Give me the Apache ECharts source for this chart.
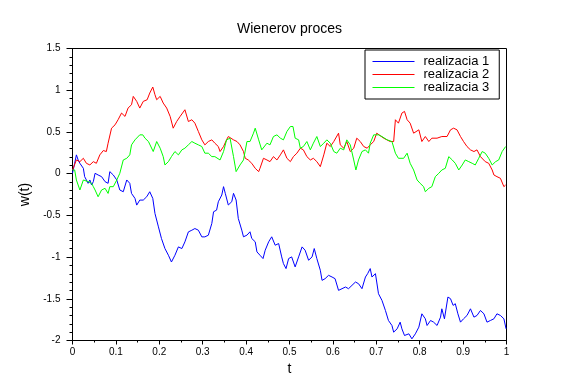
<!DOCTYPE html>
<html>
<head>
<meta charset="utf-8">
<script src="https://cdn.jsdelivr.net/npm/echarts@6/dist/echarts.min.js"></script>
<style>
html,body{margin:0;padding:0;background:#fff;}
#chart{width:579px;height:388px;}
</style>
</head>
<body>
<div id="chart"></div>
<script>
var titleText = 'Wienerov proces';
var seriesNames = ['realizacia 1', 'realizacia 2', 'realizacia 3'];
var xTicks = [0, 0.1, 0.2, 0.3, 0.4, 0.5, 0.6, 0.7, 0.8, 0.9, 1];
var yTicks = [-2, -1.5, -1, -0.5, 0, 0.5, 1, 1.5];

// realizacia 1 (blue)
var t1 = [0.000,0.005,0.009,0.013,0.017,0.021,0.025,0.028,0.032,0.036,0.040,0.044,0.048,0.052,0.059,0.067,0.075,0.082,0.086,0.094,0.102,0.109,0.117,0.125,0.128,0.132,0.136,0.144,0.148,0.155,0.163,0.171,0.178,0.185,0.190,0.198,0.205,0.213,0.221,0.228,0.236,0.244,0.252,0.259,0.267,0.275,0.282,0.290,0.298,0.305,0.313,0.321,0.325,0.332,0.336,0.344,0.348,0.352,0.359,0.367,0.371,0.377,0.382,0.390,0.394,0.402,0.409,0.413,0.421,0.425,0.432,0.439,0.444,0.452,0.459,0.467,0.475,0.482,0.486,0.492,0.498,0.505,0.513,0.521,0.529,0.536,0.544,0.552,0.557,0.563,0.571,0.575,0.582,0.590,0.598,0.605,0.613,0.621,0.629,0.636,0.644,0.652,0.659,0.667,0.675,0.680,0.686,0.690,0.698,0.701,0.705,0.713,0.721,0.728,0.736,0.740,0.748,0.755,0.759,0.765,0.775,0.782,0.790,0.798,0.805,0.813,0.817,0.825,0.832,0.840,0.848,0.851,0.857,0.865,0.871,0.877,0.882,0.888,0.894,0.901,0.909,0.917,0.925,0.932,0.940,0.948,0.955,0.963,0.971,0.978,0.986,0.994,0.999];
var w1 = [0.004,0.124,0.225,0.164,0.124,0.104,0.064,-0.036,-0.076,-0.116,-0.076,-0.136,-0.096,0.004,-0.016,-0.036,-0.096,-0.116,0.024,-0.016,-0.076,-0.196,-0.217,-0.076,-0.056,-0.116,-0.237,-0.297,-0.377,-0.317,-0.317,-0.277,-0.217,-0.297,-0.477,-0.638,-0.778,-0.898,-0.978,-1.059,-0.978,-0.878,-0.898,-0.818,-0.698,-0.678,-0.658,-0.678,-0.758,-0.758,-0.738,-0.597,-0.457,-0.437,-0.337,-0.256,-0.156,-0.236,-0.376,-0.336,-0.236,-0.316,-0.537,-0.677,-0.757,-0.737,-0.697,-0.777,-0.817,-0.938,-0.978,-1.018,-0.918,-0.817,-0.757,-0.858,-0.838,-0.998,-1.078,-1.138,-1.018,-0.998,-1.118,-0.998,-0.878,-0.918,-1.038,-0.998,-0.898,-1.018,-1.158,-1.279,-1.259,-1.219,-1.239,-1.259,-1.399,-1.379,-1.359,-1.379,-1.339,-1.299,-1.319,-1.379,-1.239,-1.199,-1.138,-1.239,-1.199,-1.299,-1.439,-1.519,-1.640,-1.760,-1.820,-1.900,-1.860,-1.780,-1.860,-1.940,-1.920,-1.980,-1.920,-1.840,-1.680,-1.740,-1.820,-1.760,-1.780,-1.820,-1.720,-1.620,-1.740,-1.479,-1.499,-1.579,-1.559,-1.680,-1.780,-1.740,-1.700,-1.620,-1.720,-1.700,-1.640,-1.680,-1.780,-1.760,-1.740,-1.680,-1.700,-1.740,-1.860];

// realizacia 2 (red)
var t2 = [0.000,0.009,0.017,0.025,0.032,0.040,0.044,0.048,0.055,0.063,0.071,0.078,0.082,0.090,0.098,0.105,0.113,0.121,0.128,0.136,0.140,0.148,0.155,0.163,0.172,0.178,0.185,0.190,0.194,0.202,0.209,0.217,0.225,0.232,0.240,0.248,0.259,0.267,0.275,0.282,0.290,0.298,0.305,0.313,0.321,0.328,0.336,0.340,0.348,0.355,0.359,0.371,0.379,0.386,0.394,0.398,0.405,0.413,0.421,0.429,0.432,0.440,0.448,0.455,0.463,0.471,0.479,0.486,0.494,0.502,0.509,0.517,0.525,0.532,0.540,0.548,0.555,0.563,0.571,0.579,0.586,0.594,0.602,0.613,0.617,0.625,0.632,0.640,0.648,0.655,0.663,0.671,0.679,0.686,0.694,0.701,0.717,0.732,0.740,0.744,0.751,0.759,0.765,0.771,0.778,0.786,0.798,0.805,0.813,0.821,0.828,0.840,0.851,0.863,0.871,0.878,0.886,0.894,0.901,0.909,0.917,0.925,0.932,0.940,0.951,0.959,0.967,0.971,0.978,0.986,0.994,0.998];
var w2 = [0.044,0.164,0.144,0.184,0.124,0.104,0.084,0.144,0.124,0.225,0.277,0.265,0.365,0.545,0.585,0.646,0.726,0.686,0.786,0.826,0.926,0.866,0.786,0.866,0.886,0.966,1.038,0.946,0.886,0.926,0.846,0.786,0.686,0.545,0.625,0.686,0.766,0.625,0.646,0.605,0.505,0.405,0.345,0.385,0.405,0.365,0.325,0.265,0.325,0.405,0.445,0.405,0.385,0.345,0.265,0.184,0.164,0.124,0.064,0.024,0.064,0.184,0.164,0.144,0.204,0.164,0.225,0.285,0.184,0.144,0.204,0.245,0.305,0.285,0.204,0.164,0.184,0.144,0.084,0.225,0.365,0.325,0.385,0.485,0.345,0.305,0.385,0.265,0.305,0.425,0.385,0.325,0.305,0.345,0.385,0.485,0.425,0.385,0.385,0.646,0.605,0.726,0.746,0.646,0.605,0.485,0.525,0.385,0.445,0.385,0.425,0.425,0.445,0.445,0.525,0.545,0.525,0.445,0.385,0.325,0.285,0.265,0.285,0.204,0.144,0.124,0.044,-0.016,-0.036,-0.056,-0.156,-0.136];

// realizacia 3 (green)
var t3 = [0.000,0.005,0.009,0.017,0.021,0.025,0.028,0.036,0.044,0.048,0.052,0.059,0.067,0.075,0.082,0.086,0.094,0.102,0.109,0.117,0.125,0.132,0.136,0.144,0.148,0.155,0.162,0.167,0.175,0.178,0.186,0.194,0.202,0.209,0.213,0.221,0.228,0.236,0.244,0.252,0.259,0.267,0.275,0.282,0.290,0.298,0.305,0.313,0.321,0.328,0.340,0.348,0.355,0.363,0.371,0.377,0.386,0.394,0.402,0.409,0.417,0.421,0.429,0.436,0.440,0.448,0.455,0.463,0.471,0.479,0.486,0.494,0.502,0.508,0.513,0.521,0.525,0.532,0.540,0.548,0.555,0.563,0.571,0.579,0.586,0.594,0.602,0.609,0.617,0.625,0.632,0.640,0.648,0.653,0.659,0.667,0.675,0.682,0.686,0.694,0.705,0.713,0.725,0.736,0.744,0.751,0.763,0.771,0.778,0.786,0.794,0.801,0.809,0.813,0.821,0.828,0.836,0.844,0.851,0.859,0.867,0.875,0.882,0.890,0.898,0.905,0.913,0.921,0.928,0.936,0.944,0.951,0.959,0.967,0.975,0.982,0.990,0.998];
var w3 = [0.044,0.044,-0.076,-0.196,-0.136,-0.076,-0.056,-0.096,-0.116,-0.156,-0.196,-0.277,-0.196,-0.176,-0.237,-0.156,-0.156,-0.076,0.004,0.164,0.184,0.225,0.345,0.405,0.425,0.465,0.465,0.425,0.385,0.365,0.265,0.385,0.305,0.204,0.104,0.144,0.204,0.265,0.225,0.285,0.305,0.345,0.385,0.365,0.345,0.325,0.245,0.245,0.204,0.204,0.164,0.265,0.405,0.425,0.204,0.024,0.104,0.164,0.385,0.385,0.485,0.545,0.405,0.285,0.305,0.365,0.345,0.445,0.465,0.425,0.405,0.505,0.565,0.565,0.425,0.405,0.305,0.325,0.385,0.285,0.365,0.445,0.325,0.365,0.405,0.365,0.265,0.245,0.305,0.285,0.405,0.345,0.164,0.044,0.164,0.265,0.285,0.245,0.365,0.465,0.465,0.445,0.405,0.385,0.245,0.184,0.184,0.245,0.124,0.044,-0.076,-0.116,-0.156,-0.217,-0.176,-0.156,-0.036,0.004,0.044,0.064,0.204,0.164,0.124,0.044,0.104,0.164,0.144,0.124,0.104,0.184,0.265,0.245,0.184,0.104,0.144,0.164,0.265,0.325];

var seriesColors = ['#0000ff', '#ff0000', '#00ff00'];

function zip(ts, ws) {
  var out = [];
  for (var i = 0; i < ts.length; i++) out.push([ts[i], ws[i]]);
  return out;
}
var allT = [t1, t2, t3];
var allW = [w1, w2, w3];

var FONT = '"Liberation Sans", Arial, sans-serif';
var chart = echarts.init(document.getElementById('chart'), null, {renderer: 'canvas'});

var series = seriesNames.map(function (name, i) {
  return {
    name: name,
    type: 'line',
    data: zip(allT[i], allW[i]),
    showSymbol: false,
    symbol: 'none',
    animation: false,
    color: seriesColors[i],
    lineStyle: {color: seriesColors[i], width: 1},
    itemStyle: {color: seriesColors[i]},
    emphasis: {disabled: true}
  };
});

chart.setOption({
  color: seriesColors,
  backgroundColor: '#ffffff',
  animation: false,
  title: {
    text: titleText,
    left: 'center',
    top: 22,
    padding: 0,
    textStyle: {fontFamily: FONT, fontSize: 14, fontWeight: 'normal', color: '#000'}
  },
  legend: {
    data: seriesNames,
    orient: 'vertical',
    left: 365,
    top: 50,
    padding: [5, 10, 5, 7],
    itemGap: 0,
    itemWidth: 42,
    itemHeight: 13,
    backgroundColor: '#ffffff',
    borderColor: '#000',
    borderWidth: 1,
    borderRadius: 0,
    itemStyle: {opacity: 0},
    lineStyle: {width: 1},
    textStyle: {fontFamily: FONT, fontSize: 13, color: '#000', padding: [0, 0, 0, 4]}
  },
  grid: {
    left: 72.5,
    right: 72.5,
    top: 48.5,
    bottom: 47.5,
    show: true,
    borderColor: '#000',
    borderWidth: 1,
    backgroundColor: 'transparent',
    containLabel: false
  },
  xAxis: {
    type: 'value',
    min: xTicks[0],
    max: xTicks[xTicks.length - 1],
    interval: 0.1,
    name: 't',
    nameLocation: 'middle',
    nameGap: 20,
    nameTextStyle: {fontFamily: FONT, fontSize: 14, color: '#000'},
    axisLine: {show: true, onZero: false, lineStyle: {color: '#000', width: 1}},
    axisTick: {show: true, inside: false, length: 4, lineStyle: {color: '#000'}},
    minorTick: {show: true, splitNumber: 2, length: 2, lineStyle: {color: '#000'}},
    axisLabel: {fontFamily: FONT, fontSize: 10, color: '#000', margin: 7,
      formatter: function (v) { return String(Math.round(v * 10) / 10); }},
    splitLine: {show: false}
  },
  yAxis: {
    type: 'value',
    min: yTicks[0],
    max: yTicks[yTicks.length - 1],
    interval: 0.5,
    name: 'w(t)',
    nameLocation: 'middle',
    nameRotate: 90,
    nameGap: 31,
    nameTextStyle: {fontFamily: FONT, fontSize: 14, color: '#000'},
    axisLine: {show: true, onZero: false, lineStyle: {color: '#000', width: 1}},
    axisTick: {show: true, inside: false, length: 6, lineStyle: {color: '#000'}},
    minorTick: {show: true, splitNumber: 5, length: 3, lineStyle: {color: '#000'}},
    axisLabel: {fontFamily: FONT, fontSize: 10, color: '#000', margin: 12,
      formatter: function (v) { return String(Math.round(v * 10) / 10); }},
    splitLine: {show: false}
  },
  series: series
});
</script>
</body>
</html>
